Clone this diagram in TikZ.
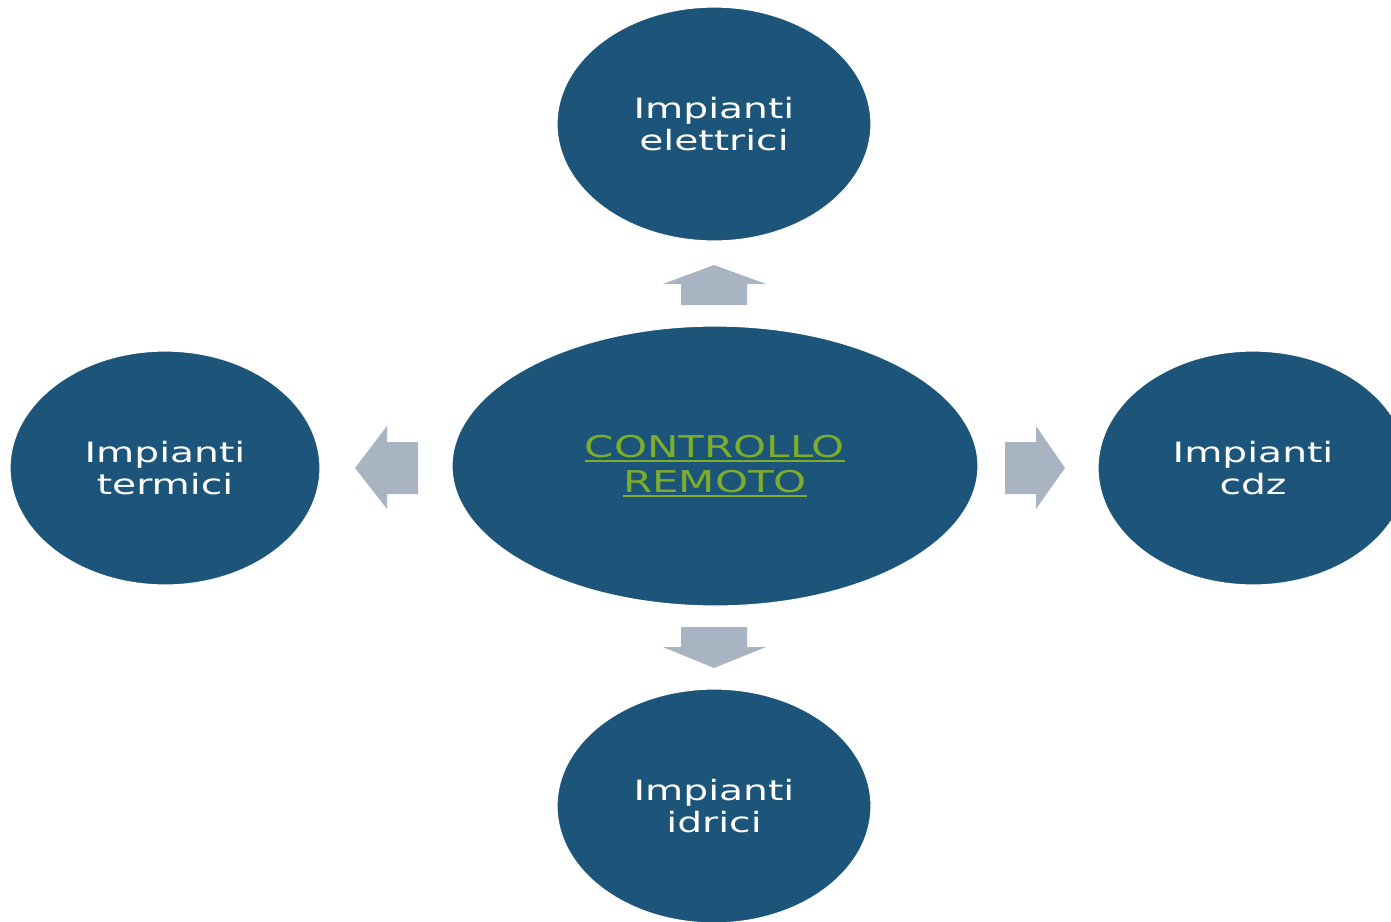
\documentclass[tikz,border=0pt]{standalone}
\usepackage{fontspec}
\newfontfamily\diagfont{DejaVu Sans}[FakeStretch=1.4]
\usetikzlibrary{shapes.geometric}
\definecolor{bubble}{HTML}{1C5579}
\definecolor{linkgreen}{HTML}{7DAD2A}
\definecolor{blockarrow}{HTML}{A9B4C3}
% link-style underline: a rule a little below the baseline
\newcommand\linkline[1]{\leavevmode\vtop{\hbox{#1}\kern3pt\hrule height 1.8pt}}
\begin{document}
\begin{tikzpicture}[x=1pt,y=-1pt,
  bubble/.style={ellipse, fill=bubble, draw=white, line width=1.2pt, inner sep=0pt,
    align=center, text=white, font=\diagfont\fontsize{28}{32}\selectfont},
  hub/.style={bubble, text=linkgreen, font=\diagfont\fontsize{30}{35}\selectfont},
  blockarrow/.style={fill=blockarrow}]
\useasboundingbox (0,0) rectangle (1391,921);
\clip (0,0) rectangle (1391,921);
\fill[white] (0,0) rectangle (1391,921);

% hub and the four plant groups
\node[hub, minimum width=526, minimum height=280] (hub) at (715,466)
  {\linkline{CONTROLLO}\\\linkline{REMOTO}};
\node[bubble, minimum width=314, minimum height=234] (el) at (714,124) {Impianti\\elettrici};
\node[bubble, minimum width=310, minimum height=234] (te) at (165,468) {Impianti\\termici};
\node[bubble, minimum width=310, minimum height=234] (cd) at (1253,468) {Impianti\\cdz};
\node[bubble, minimum width=314, minimum height=234] (id) at (714,806) {Impianti\\idrici};

% block arrows from the hub outwards
\fill[blockarrow] (681,305) -- (681,284) -- (663,284) -- (714,265) -- (766,284)
  -- (747,284) -- (747,305) -- cycle;
\fill[blockarrow] (681,627) -- (681,647) -- (663,647) -- (714,668) -- (766,647)
  -- (747,647) -- (747,627) -- cycle;
\fill[blockarrow] (418,442) -- (387,442) -- (387,426) -- (355,468) -- (387,509)
  -- (387,494) -- (418,494) -- cycle;
\fill[blockarrow] (1005,442) -- (1036,442) -- (1036,426) -- (1065,468) -- (1036,509)
  -- (1036,494) -- (1005,494) -- cycle;
\end{tikzpicture}
\end{document}
